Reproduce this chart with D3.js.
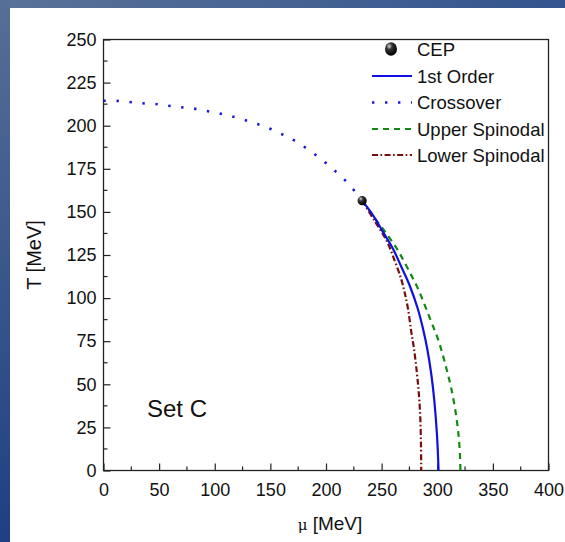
<!DOCTYPE html>
<html>
<head>
<meta charset="utf-8">
<script src="https://cdn.jsdelivr.net/npm/d3@7/dist/d3.min.js"></script>
<style>
  html, body { margin: 0; padding: 0; background: #ffffff; }
  svg { display: block; }
  text { font-family: "Liberation Sans", Arial, sans-serif; fill: #111; }
</style>
</head>
<body>
<svg id="chart" width="565" height="542"></svg>
<script>
// Phase diagram data: T [MeV] vs quark chemical potential mu [MeV]
const crossoverMu = [0, 11.3, 23.2, 34.6, 46.0, 57.7, 68.8, 80.5, 91.9, 103.2, 114.8, 126.5, 137.9, 149.3, 160.9, 172.6, 183.9, 195.6, 206.7, 218.4, 228.5, 232.5];
const crossoverT  = [214.5, 214.4, 213.8, 213.0, 212.6, 211.6, 210.8, 210.0, 208.6, 207.2, 205.5, 203.4, 201.1, 198.4, 194.9, 191.0, 186.2, 180.6, 174.6, 167.5, 159.9, 156.5];

const firstOrderMu = [232.5, 242.3, 251.3, 260.2, 267.8, 275.2, 282.5, 287.2, 291.0, 294.8, 297.5, 299.8, 301.2];
const firstOrderT  = [156.5, 148.0, 138.3, 128.6, 118.0, 107.3, 93.8, 82.2, 70.6, 55.1, 39.6, 20.2, 0];

const upperSpinodalMu = [232.5, 245.3, 256.6, 264.7, 272.8, 282.7, 294.7, 300.6, 305.1, 308.7, 312.7, 316.5, 319.2, 320.6, 320.8];
const upperSpinodalT  = [156.5, 145.1, 135.4, 127.6, 118.0, 105.4, 86.1, 76.4, 66.7, 58.0, 47.3, 33.8, 20.2, 6.7, 0];

const lowerSpinodalMu = [232.5, 243.5, 254.3, 261.7, 267.5, 270.6, 273.7, 276.7, 279.1, 281.8, 283.6, 284.8, 285.4, 285.6];
const lowerSpinodalT  = [156.5, 145.0, 133.5, 121.8, 111.2, 103.5, 93.8, 80.3, 70.6, 56.0, 43.4, 29.9, 14.4, 0];

const cepPoint = { mu: 232.5, T: 156.5 };

const xTicks = [0, 50, 100, 150, 200, 250, 300, 350, 400];
const yTicks = [0, 25, 50, 75, 100, 125, 150, 175, 200, 225, 250];

const legendLabels = ["CEP", "1st Order", "Crossover", "Upper Spinodal", "Lower Spinodal"];

const svg = d3.select("#chart");
const W = 565, H = 542;

// Slide background: blue gradient edge strips around a white panel
const defs = svg.append("defs");
const gLeft = defs.append("linearGradient").attr("id", "edgeLeft")
  .attr("x1", 0).attr("y1", 0).attr("x2", 0).attr("y2", 1);
gLeft.append("stop").attr("offset", "0%").attr("stop-color", "#566f96");
gLeft.append("stop").attr("offset", "100%").attr("stop-color", "#1e3f82");
const gTop = defs.append("linearGradient").attr("id", "edgeTop")
  .attr("x1", 0).attr("y1", 0).attr("x2", 1).attr("y2", 0);
gTop.append("stop").attr("offset", "0%").attr("stop-color", "#5a7298");
gTop.append("stop").attr("offset", "100%").attr("stop-color", "#33548e");
const cepGrad = defs.append("radialGradient").attr("id", "cepBall")
  .attr("cx", "35%").attr("cy", "30%").attr("r", "70%");
cepGrad.append("stop").attr("offset", "0%").attr("stop-color", "#d8d8d8");
cepGrad.append("stop").attr("offset", "35%").attr("stop-color", "#333");
cepGrad.append("stop").attr("offset", "100%").attr("stop-color", "#000");

svg.append("rect").attr("width", W).attr("height", H).attr("fill", "#fff");
svg.append("rect").attr("x", 0).attr("y", 0).attr("width", W).attr("height", 8).attr("fill", "url(#edgeTop)");
svg.append("rect").attr("x", 0).attr("y", 0).attr("width", 10).attr("height", H).attr("fill", "url(#edgeLeft)");

// Plot frame
const padL = 103.5, padR = 548.5, padT = 39.5, padB = 470.5;
const x = d3.scaleLinear().domain([0, 400]).range([padL, padR]);
const y = d3.scaleLinear().domain([0, 250]).range([padB, padT]);

const plot = svg.append("g");

// Axes with inward ticks
const xAxis = d3.axisBottom(x).tickValues(xTicks).tickSizeInner(-7).tickSizeOuter(0).tickPadding(10);
const yAxis = d3.axisLeft(y).tickValues(yTicks).tickSizeInner(-7).tickSizeOuter(0).tickPadding(7);

const gx = plot.append("g").attr("transform", `translate(0,${padB})`).call(xAxis);
const gy = plot.append("g").attr("transform", `translate(${padL},0)`).call(yAxis);
[gx, gy].forEach(g => {
  g.select(".domain").remove();
  g.selectAll(".tick line").attr("stroke", "#222").attr("stroke-width", 1.2);
  g.selectAll(".tick text").style("font-size", "18px").attr("fill", "#111")
    .style("font-family", "'Liberation Sans', Arial, sans-serif");
});
gx.selectAll(".tick text").attr("dy", "0.85em");

// Minor ticks
const xMinor = d3.range(25, 400, 50);
const yMinor = d3.range(12.5, 250, 25);
plot.append("g").selectAll("line").data(xMinor).join("line")
  .attr("x1", d => x(d)).attr("x2", d => x(d))
  .attr("y1", padB).attr("y2", padB - 4)
  .attr("stroke", "#222").attr("stroke-width", 1.2);
plot.append("g").selectAll("line").data(yMinor).join("line")
  .attr("x1", padL).attr("x2", padL + 4)
  .attr("y1", d => y(d)).attr("y2", d => y(d))
  .attr("stroke", "#222").attr("stroke-width", 1.2);

plot.append("rect")
  .attr("x", padL).attr("y", padT)
  .attr("width", padR - padL).attr("height", padB - padT)
  .attr("fill", "none").attr("stroke", "#222").attr("stroke-width", 1.3);

// Curves
const toPts = (mus, ts) => mus.map((m, i) => [m, ts[i]]);
const line = d3.line().x(d => x(d[0])).y(d => y(d[1])).curve(d3.curveCatmullRom.alpha(0.5));

const styles = {
  crossover: { color: "#1a1ad6", width: 2.6, dash: "2.4 10.6" },
  first:     { color: "#1010e0", width: 2.2, dash: null },
  upper:     { color: "#118a11", width: 2.2, dash: "6 5" },
  lower:     { color: "#7a0c0c", width: 2.2, dash: "6 2.5 1.6 2.5" }
};

function drawCurve(pts, s) {
  plot.append("path").datum(pts).attr("d", line)
    .attr("fill", "none").attr("stroke", s.color).attr("stroke-width", s.width)
    .attr("stroke-dasharray", s.dash);
}

drawCurve(toPts(crossoverMu, crossoverT), styles.crossover);
drawCurve(toPts(upperSpinodalMu, upperSpinodalT), styles.upper);
drawCurve(toPts(lowerSpinodalMu, lowerSpinodalT), styles.lower);
drawCurve(toPts(firstOrderMu, firstOrderT), styles.first);

plot.append("circle")
  .attr("cx", x(cepPoint.mu)).attr("cy", y(cepPoint.T)).attr("r", 4.6)
  .attr("fill", "url(#cepBall)");

// Legend
const legend = svg.append("g");
const lgX0 = 372, lgX1 = 412, lgText = 417;
const lgY = [49, 76, 102.5, 129, 155];
legend.append("ellipse").attr("cx", (lgX0 + lgX1) / 2 - 1).attr("cy", lgY[0]).attr("rx", 6).attr("ry", 6.8)
  .attr("fill", "url(#cepBall)");
const legendStyles = [null, styles.first, styles.crossover, styles.upper, styles.lower];
legendStyles.forEach((s, i) => {
  if (!s) return;
  legend.append("line")
    .attr("x1", lgX0).attr("x2", lgX1).attr("y1", lgY[i]).attr("y2", lgY[i])
    .attr("stroke", s.color).attr("stroke-width", s.width)
    .attr("stroke-dasharray", s.dash);
});
legend.selectAll("text.lbl").data(legendLabels).join("text")
  .attr("class", "lbl")
  .attr("x", lgText).attr("y", (d, i) => lgY[i])
  .attr("dy", "0.36em")
  .style("font-size", "18.5px")
  .text(d => d);

// Axis titles
svg.append("text")
  .attr("transform", `translate(41,${(padT + padB) / 2}) rotate(-90)`)
  .attr("text-anchor", "middle")
  .style("font-size", "20px")
  .text("T [MeV]");

const xt = svg.append("text")
  .attr("x", (padL + padR) / 2 + 4).attr("y", 530)
  .attr("text-anchor", "middle")
  .style("font-size", "19px");
xt.append("tspan").style("font-size", "15px").style("font-family", "'DejaVu Serif', serif").text("μ");
xt.append("tspan").text(" [MeV]");

// Panel annotation
svg.append("text")
  .attr("x", 147).attr("y", 417)
  .style("font-size", "24px")
  .text("Set C");
</script>
</body>
</html>
